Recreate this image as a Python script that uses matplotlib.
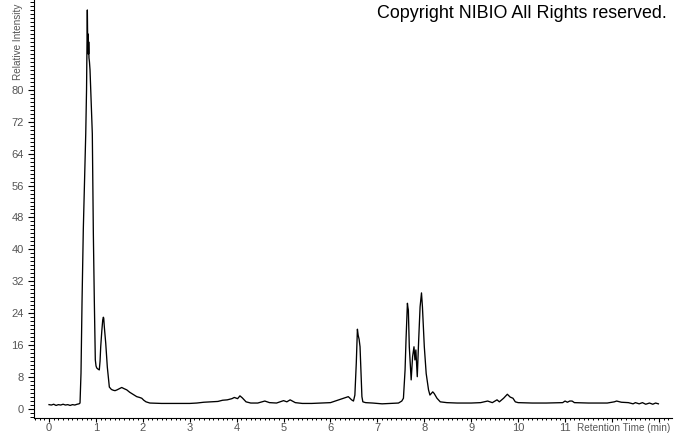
import matplotlib
matplotlib.use("Agg")
import matplotlib.pyplot as plt
from matplotlib.ticker import MultipleLocator, FixedLocator, FixedFormatter

# retention time (min) and relative intensity
rt = [0.00, 0.05, 0.10, 0.15, 0.20, 0.25, 0.30, 0.35, 0.40, 0.45, 0.50, 0.55,
      0.60, 0.64, 0.661, 0.682, 0.704, 0.731, 0.760, 0.783, 0.800, 0.817,
      0.822, 0.826, 0.830, 0.834, 0.838, 0.842, 0.846, 0.852, 0.862, 0.874,
      0.889, 0.905, 0.923, 0.945, 0.966, 0.987, 1.002, 1.017, 1.045, 1.072,
      1.088, 1.102, 1.125, 1.145, 1.158, 1.166, 1.179, 1.209, 1.243, 1.286,
      1.33, 1.371, 1.407, 1.45, 1.50, 1.55, 1.60, 1.657, 1.72, 1.80, 1.87,
      1.93, 1.977, 2.02, 2.068, 2.15, 2.40, 2.70, 3.00, 3.15, 3.30, 3.45,
      3.60, 3.70, 3.80, 3.90, 3.95, 4.02, 4.07, 4.12, 4.20, 4.30, 4.45, 4.60,
      4.70, 4.85, 5.00, 5.07, 5.14, 5.25, 5.40, 5.60, 5.80, 6.00, 6.10, 6.20,
      6.30, 6.38, 6.45, 6.49, 6.52, 6.55, 6.574, 6.59, 6.61, 6.63, 6.65, 6.67,
      6.69, 6.75, 6.90, 7.10, 7.30, 7.45, 7.52, 7.555, 7.59, 7.61, 7.64, 7.65,
      7.66, 7.68, 7.72, 7.75, 7.78, 7.80, 7.82, 7.85, 7.88, 7.91, 7.94, 7.96,
      8.00, 8.04, 8.09, 8.12, 8.18, 8.21, 8.27, 8.34, 8.48, 8.70, 9.00, 9.20,
      9.35, 9.45, 9.55, 9.60, 9.69, 9.77, 9.83, 9.89, 9.94, 10.00, 10.30,
      10.60, 10.95, 11.00, 11.05, 11.10, 11.15, 11.20, 11.50, 11.90, 12.05,
      12.10, 12.20, 12.35, 12.45, 12.50, 12.58, 12.65, 12.72, 12.80, 12.87,
      12.93, 12.99]
intensity = [1.1, 1.0, 1.2, 0.9, 1.1, 1.0, 1.2, 1.0, 1.1, 0.9, 1.1, 1.0,
             1.2, 1.3, 1.5, 9.0, 27.0, 45.0, 58.0, 69.0, 80.0, 100.0,
             95.0, 90.0, 94.0, 89.0, 93.0, 89.0, 92.0, 88.0, 87.0, 85.0,
             80.0, 75.0, 69.0, 44.0, 27.0, 12.3, 10.8, 10.3, 10.0, 9.8,
             12.0, 15.6, 19.5, 22.3, 23.0, 22.8, 20.6, 16.5, 10.5, 5.5,
             4.9, 4.7, 4.6, 4.8, 5.1, 5.4, 5.1, 4.8, 4.2, 3.6, 3.1,
             2.9, 2.7, 2.2, 1.8, 1.5, 1.4, 1.4, 1.4, 1.5, 1.7, 1.8,
             1.9, 2.2, 2.3, 2.6, 2.9, 2.6, 3.3, 2.8, 1.8, 1.5, 1.5, 2.0,
             1.6, 1.5, 2.1, 1.8, 2.3, 1.6, 1.4, 1.4, 1.5, 1.6, 2.0, 2.4,
             2.8, 3.1, 2.3, 2.0, 3.5, 11.5, 20.0, 18.5, 17.5, 15.6, 9.0, 3.1,
             1.8, 1.6, 1.5, 1.3, 1.4, 1.5, 2.0, 2.7, 9.8, 17.3, 26.5, 25.5,
             24.8, 15.6, 7.3, 13.1, 15.6, 12.3, 14.8, 8.1, 17.3, 25.6, 29.1, 25.6,
             15.6, 8.9, 4.8, 3.5, 4.3, 3.9, 2.7, 1.8, 1.6, 1.5, 1.5, 1.6,
             2.0, 1.6, 2.3, 1.8, 2.7, 3.7, 3.0, 2.7, 1.8, 1.6, 1.5,
             1.5, 1.6, 2.0, 1.7, 2.0, 2.0, 1.6, 1.5, 1.5, 1.8,
             2.0, 1.7, 1.6, 1.3, 1.6, 1.3, 1.6, 1.2, 1.5, 1.2,
             1.5, 1.3]

x_major = list(range(0, 14))
x_labels = [str(v) for v in range(0, 12)] + ["", ""]
y_major = [0, 8, 16, 24, 32, 40, 48, 56, 64, 72, 80]

plt.rcParams['font.family'] = ['Liberation Sans', 'DejaVu Sans']
grey = '#555555'

fig = plt.figure(figsize=(6.74, 4.34), dpi=100)
ax = fig.add_axes([34 / 674, 16 / 434, 638 / 674, 418 / 434])

ax.plot(rt, intensity, color='black', linewidth=0.95)

ax.set_xlim(-0.32, 13.28)
ax.set_ylim(-2.25, 102.5)

ax.xaxis.set_major_locator(FixedLocator(x_major))
ax.xaxis.set_major_formatter(FixedFormatter(x_labels))
ax.xaxis.set_minor_locator(MultipleLocator(0.1))
ax.yaxis.set_major_locator(FixedLocator(y_major))
ax.yaxis.set_minor_locator(MultipleLocator(1))

ax.tick_params(axis='x', which='major', length=3, width=0.8, colors='black',
               labelcolor=grey, labelsize=8, pad=0.5)
ax.tick_params(axis='x', which='minor', length=1.7, width=0.7, colors='black')
ax.tick_params(axis='y', which='major', length=4.3, width=0.8, colors='black',
               labelcolor=grey, labelsize=8, pad=3)
ax.tick_params(axis='y', which='minor', length=2.7, width=0.7, colors='black')

for side in ('top', 'right'):
    ax.spines[side].set_visible(False)
for side in ('left', 'bottom'):
    ax.spines[side].set_linewidth(0.8)

# y label sits in the top-left corner, squeezed to fit above the 80 tick
fig.text(18 / 674, 1 - 80 / 434, 'Relative Intensity', rotation=90,
         ha='center', va='bottom', fontsize=7.2, color=grey)
fig.text(577 / 674, 1 - 428 / 434, 'Retention Time (min)',
         ha='left', va='center', fontsize=7.2, color=grey)
fig.text(667 / 674, 1 - 14 / 434, 'Copyright NIBIO All Rights reserved.',
         ha='right', va='center', fontsize=12.9, color='black')

fig.savefig('out.png', dpi=100)
plt.close(fig)
